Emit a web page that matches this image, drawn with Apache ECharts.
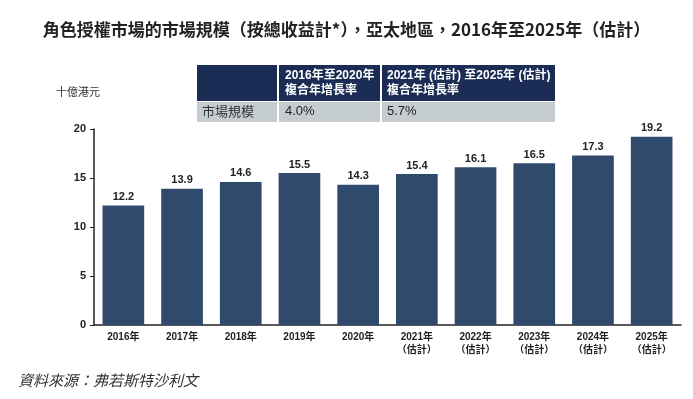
<!DOCTYPE html>
<html>
<head>
<meta charset="utf-8">
<script src="https://cdn.jsdelivr.net/npm/echarts@6/dist/echarts.min.js"></script>
<style>
  html, body { margin: 0; padding: 0; background: #fff; }
  #chart { width: 693px; height: 399px; }
</style>
</head>
<body>
<div id="chart"></div>
<script>
// 年份（第二行為估計標記）
var years = ['2016年', '2017年', '2018年', '2019年', '2020年',
    '2021年\n（估計）', '2022年\n（估計）', '2023年\n（估計）', '2024年\n（估計）', '2025年\n（估計）'];
// 市場規模，十億港元
var marketSize = [12.2, 13.9, 14.6, 15.5, 14.3, 15.4, 16.1, 16.5, 17.3, 19.2];
var yTicks = [0, 5, 10, 15, 20];
// 複合年增長率表
var cagrHeaders = ['2016年至2020年\n複合年增長率', '2021年 (估計) 至2025年 (估計)\n複合年增長率'];
var cagrValues = ['4.0%', '5.7%'];

var font = '"Liberation Sans", "Noto Sans CJK TC", sans-serif';
var navy = '#1b2d55';
var barColor = '#2f4a6d';
var gray = '#c5ccd0';

var myChart = echarts.init(document.getElementById('chart'));

// 表格用 graphic 畫
var tbl = [
    {type: 'rect', left: 197, top: 65, shape: {width: 80, height: 36}, style: {fill: navy}},
    {type: 'rect', left: 279, top: 65, shape: {width: 101, height: 36}, style: {fill: navy}},
    {type: 'rect', left: 382, top: 65, shape: {width: 173, height: 36}, style: {fill: navy}},
    {type: 'rect', left: 197, top: 102, shape: {width: 80, height: 20}, style: {fill: gray}},
    {type: 'rect', left: 279, top: 102, shape: {width: 101, height: 20}, style: {fill: gray}},
    {type: 'rect', left: 382, top: 102, shape: {width: 173, height: 20}, style: {fill: gray}},
    {type: 'text', left: 285, top: 68, style: {text: cagrHeaders[0], fill: '#fff', font: 'bold 12px ' + font, lineHeight: 15}},
    {type: 'text', left: 387, top: 68, style: {text: cagrHeaders[1], fill: '#fff', font: 'bold 12px ' + font, lineHeight: 15}},
    {type: 'text', left: 202, top: 105, style: {text: '市場規模', fill: '#333', font: '13px "Noto Sans CJK TC", sans-serif'}},
    {type: 'text', left: 285, top: 105, style: {text: cagrValues[0], fill: '#222', font: '13px ' + font}},
    {type: 'text', left: 387, top: 105, style: {text: cagrValues[1], fill: '#222', font: '13px ' + font}},
    {type: 'text', left: 56, top: 86, style: {text: '十億港元', fill: '#333', font: '11px "Noto Sans CJK TC", sans-serif'}},
    {type: 'text', left: 18, top: 373, style: {text: '資料來源：弗若斯特沙利文', fill: '#333', font: 'italic 15px "Noto Sans CJK TC", serif'}}
];

myChart.setOption({
    title: {
        text: '角色授權市場的市場規模（按總收益計*），亞太地區，2016年至2025年（估計）',
        left: 'center',
        top: 16,
        textStyle: {fontFamily: '"Noto Sans CJK TC", serif', fontSize: 17, fontWeight: 'bold', color: '#222'}
    },
    graphic: tbl,
    grid: {left: 94, right: 12, top: 129, bottom: 74},
    xAxis: {
        type: 'category',
        data: years,
        axisLine: {lineStyle: {color: '#222', width: 1.5}},
        axisTick: {show: false},
        axisLabel: {
            color: '#222', fontSize: 10, fontWeight: 'bold', fontFamily: font,
            interval: 0, margin: 6, lineHeight: 13
        }
    },
    yAxis: {
        type: 'value',
        min: yTicks[0],
        max: yTicks[yTicks.length - 1],
        interval: 5,
        axisLine: {show: true, lineStyle: {color: '#222', width: 1.5}},
        axisTick: {show: true, length: 4, lineStyle: {color: '#222'}},
        splitLine: {show: false},
        axisLabel: {color: '#222', fontSize: 11, fontWeight: 'bold', fontFamily: font, margin: 8}
    },
    series: [{
        type: 'bar',
        data: marketSize,
        barWidth: '71%',
        itemStyle: {color: barColor},
        label: {
            show: true, position: 'top', distance: 3,
            color: '#222', fontSize: 11, fontWeight: 'bold', fontFamily: font
        }
    }]
});
</script>
</body>
</html>
